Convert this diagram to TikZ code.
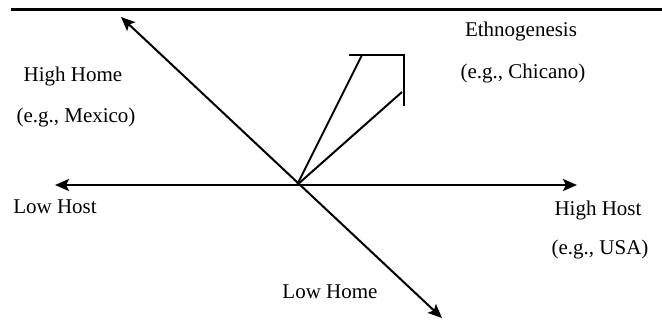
\documentclass[tikz,border=0pt]{standalone}
\usepackage{fontspec}
\setmainfont{Liberation Serif}
\usetikzlibrary{arrows.meta}

\begin{document}
\begin{tikzpicture}[
    x=1pt, y=-1pt,
    txt/.style={font=\fontsize{21}{25}\selectfont, inner sep=0pt, anchor=base},
    rule/.style={line width=3pt},
    plain/.style={line width=2pt},
    axis/.style={line width=2pt,
        {Stealth[length=14pt,width=12pt,inset=3pt]}-{Stealth[length=14pt,width=12pt,inset=3pt]}}
]
\useasboundingbox (0,0) rectangle (662,321);

% --- Top rule
\coordinate (rl) at (11,10);
\coordinate (rr) at (662,10);
\draw [rule] (rl) -- (rr);

% --- Axis end points and origin
\coordinate (o)  at (297,185);
\coordinate (lo) at (55,185);
\coordinate (hi) at (577,185);
\coordinate (hh) at (121,17);
\coordinate (lh) at (442,318);

% --- Bracket end points
\coordinate (b1) at (362,55);
\coordinate (bl) at (349,55);
\coordinate (br) at (404,55);
\coordinate (bb) at (404,106);
\coordinate (b2) at (402,92);

% --- Labels
\node (ethno)  [txt] at (521,37)  {Ethnogenesis};
\node (chic)   [txt] at (523,78)  {(e.g., Chicano)};
\node (hhome)  [txt] at (73,82)   {High Home};
\node (mex)    [txt] at (76,123)  {(e.g., Mexico)};
\node (lhost)  [txt] at (55,213)  {Low Host};
\node (hhost)  [txt] at (598,215) {High Host};
\node (usa)    [txt] at (600,254) {(e.g., USA)};
\node (lhome)  [txt] at (330,298) {Low Home};

% --- Axes
\draw [axis] (lo) -- (hi);
\draw [axis] (hh) -- (lh);

% --- Bracket arrow towards ethnogenesis
\draw [plain] (o) -- (b1);
\draw [plain] (o) -- (b2);
\draw [plain] (bl) -- (br) -- (bb);

\end{tikzpicture}
\end{document}
